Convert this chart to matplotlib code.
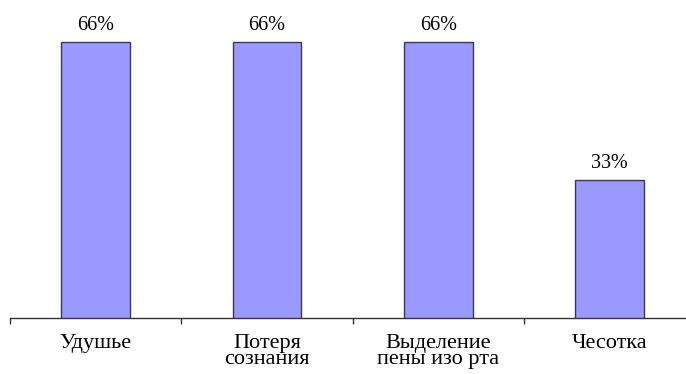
import matplotlib
matplotlib.use("Agg")
import matplotlib.pyplot as plt
from matplotlib.transforms import blended_transform_factory

categories = ["Удушье", "Потеря\nсознания", "Выделение\nпены изо рта", "Чесотка"]
values = [66, 66, 66, 33]
value_labels = ["66%", "66%", "66%", "33%"]

plt.rcParams["font.family"] = ["Liberation Serif", "DejaVu Serif"]

W, H = 686, 374
fig = plt.figure(figsize=(W / 100, H / 100), dpi=100)
fig.patch.set_facecolor("white")

axis_y = 318          # pixel row of the baseline
px_per_unit = 4.18
ymax = 75
left_px = 10
cat_px = 171.3
ax = fig.add_axes([left_px / W, (H - axis_y) / H,
                   4 * cat_px / W, ymax * px_per_unit / H])

x = list(range(len(categories)))
ax.bar(x, values, width=0.40, color="#9999ff", edgecolor="#3a3a50", linewidth=1.0, zorder=3)

ax.set_xlim(-0.5, 3.5)
ax.set_ylim(0, ymax)

for s in ["top", "right", "left"]:
    ax.spines[s].set_visible(False)
ax.spines["bottom"].set_color("#333333")
ax.spines["bottom"].set_linewidth(1.0)
ax.set_yticks([])

ax.set_xticks([-0.5, 0.5, 1.5, 2.5, 3.5])
ax.set_xticklabels([])
ax.tick_params(axis="x", direction="out", length=4.5, width=1.0, color="#333333")

for xi, v, lab in zip(x, values, value_labels):
    ax.annotate(lab, (xi, v), xytext=(0, 5), textcoords="offset points",
                ha="center", va="bottom", fontsize=14.5, color="black")

trans = blended_transform_factory(ax.transData, ax.transAxes)
for xi, cat in zip(x, categories):
    ax.annotate(cat, (xi, 0), xycoords=trans, xytext=(0, -11.5), textcoords="offset points",
                ha="center", va="top", fontsize=16, color="black",
                linespacing=0.8)

fig.savefig("out.png", dpi=100, facecolor="white")
